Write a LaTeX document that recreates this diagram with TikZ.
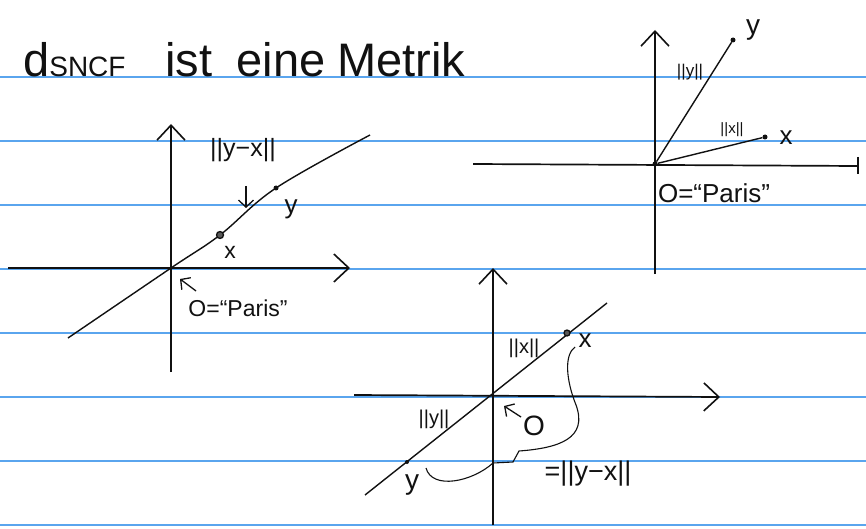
\documentclass[tikz,border=0pt]{standalone}
\usepackage{fontspec}
\setmainfont{Liberation Sans}
\usetikzlibrary{arrows.meta, positioning}
\definecolor{Ink}{HTML}{111111}
\definecolor{Rule}{HTML}{5AA5EE}
\definecolor{Paper}{HTML}{FFFFFF}
\tikzset{
    rule/.style={draw=Rule, line width=1.1pt},
    axis/.style={draw=Ink, line width=1.7pt, -{Straight Barb[length=15pt, width=28pt, line width=1.6pt]}},
    ink/.style={draw=Ink, line width=1.4pt},
    pointer/.style={draw=Ink, line width=1.3pt, -{Straight Barb[length=7pt, width=15pt]}},
    hand/.style={text=Ink, inner sep=1pt, font=\fontsize{23}{23}\selectfont},
    dotpt/.style={circle, fill=Ink, inner sep=0pt, minimum size=5pt},
}

\begin{document}
\begin{tikzpicture}[x=1pt, y=-1pt]

    % Blatt und Linien
    \fill[Paper] (0,0) rectangle (866,529);
    \useasboundingbox (0,0) rectangle (866,529);
    \foreach \r in {77,141,...,525} \draw[rule] (0,\r) -- (866,\r);

    % --- Titel ---
    \node[hand, anchor=base west, font=\fontsize{47}{47}\selectfont] (title) at (22,77)
        {d{\fontsize{28}{28}\selectfont SNCF}\hspace{40pt}ist\hspace{24pt}eine\hspace{12pt}Metrik};

    % --- 1. Gerade durch Paris (links) ---
    \coordinate (o1) at (171,268);
    \coordinate (h1w) at (8,268);  \coordinate (h1e) at (350,268);
    \coordinate (v1s) at (171,372); \coordinate (v1n) at (171,124);
    \draw[axis] (h1w) -- (h1e);
    \draw[axis] (v1s) -- (v1n);
    \draw[ink] plot[smooth, tension=0.6] coordinates {(68,338) (o1) (220,235) (276,188) (370,135)};

    \node[circle, draw=Ink, fill=Ink!70, line width=1.3pt, inner sep=0pt, minimum size=7pt] (x1) at (220,235) {};
    \node[dotpt] (y1) at (276,188) {};
    \node[hand] (x1l) at (230,252) {x};
    \node[hand, font=\fontsize{26}{26}\selectfont] (y1l) at (291,209) {y};
    \node[hand, font=\fontsize{25}{25}\selectfont] (d1) at (243,150) {||y−x||};
    \coordinate (d1s) at (246,186); \coordinate (d1e) at (246,208);
    \draw[pointer] (d1s) -- (d1e);

    \node[hand] (p1) at (238,308) {O=“Paris”};
    \coordinate (p1a) at (196,291); \coordinate (p1b) at (180,279);
    \draw[pointer] (p1a) -- (p1b);

    % --- 2. Vektoren (rechts oben) ---
    \coordinate (o2) at (655,164);
    \coordinate (h2w) at (473,164); \coordinate (h2e) at (858,166);
    \coordinate (v2s) at (655,274); \coordinate (v2n) at (655,30);
    \draw[ink, line width=1.7pt] (h2w) -- (h2e);
    \draw[ink, line width=1.7pt] (858,157) -- (858,174);
    \draw[axis] (v2s) -- (v2n);

    \node[dotpt] (o2p) at (o2) {};
    \node[dotpt] (y2) at (733,40) {};
    \node[dotpt] (x2) at (765,137) {};
    \draw[ink] (o2p) -- (y2);
    \draw[ink] (o2p) -- (x2);
    \node[hand, font=\fontsize{28}{28}\selectfont] (y2l) at (753,30) {y};
    \node[hand, font=\fontsize{26}{26}\selectfont] (x2l) at (786,138) {x};
    \node[hand, font=\fontsize{17}{17}\selectfont] (ny2) at (690,72) {||y||};
    \node[hand, font=\fontsize{15}{15}\selectfont] (nx2) at (732,130) {||x||};
    \node[hand, font=\fontsize{26}{26}\selectfont] (p2) at (714,193) {O=“Paris”};

    % --- 3. Abstand auf der Geraden (unten) ---
    \coordinate (o3) at (493,395);
    \coordinate (h3w) at (354,395); \coordinate (h3e) at (720,397);
    \coordinate (v3s) at (493,525); \coordinate (v3n) at (493,268);
    \draw[axis] (h3w) -- (h3e);
    \draw[axis] (v3s) -- (v3n);
    \coordinate (l3s) at (365,495); \coordinate (l3e) at (607,303);
    \draw[ink] (l3s) -- (l3e);

    \node[circle, draw=Ink, fill=Ink!70, line width=1.3pt, inner sep=0pt, minimum size=6pt] (x3) at (567,333) {};
    \node[dotpt, minimum size=4pt] (y3) at (407,462) {};
    \node[hand, font=\fontsize{26}{26}\selectfont] (x3l) at (585,341) {x};
    \node[hand, font=\fontsize{28}{28}\selectfont] (y3l) at (412,485) {y};
    \node[hand, font=\fontsize{20}{20}\selectfont] (nx3) at (524,348) {||x||};
    \node[hand, font=\fontsize{20}{20}\selectfont] (ny3) at (434,419) {||y||};
    \node[hand, font=\fontsize{28}{28}\selectfont] (o3l) at (534,426) {O};
    \coordinate (o3a) at (521,417); \coordinate (o3b) at (504,406);
    \draw[pointer] (o3a) -- (o3b);

    \coordinate (bs) at (426,468); \coordinate (be) at (575,347);
    \draw[ink, line width=1.1pt] (bs) .. controls (432,490) and (472,482) .. (493,463)
        -- (513,462) -- (519,451) .. controls (560,448) and (588,438) .. (576,405)
        .. controls (566,380) and (564,355) .. (be);
    \node[hand, font=\fontsize{27}{27}\selectfont] (d3) at (588,474) {=||y−x||};

\end{tikzpicture}
\end{document}
